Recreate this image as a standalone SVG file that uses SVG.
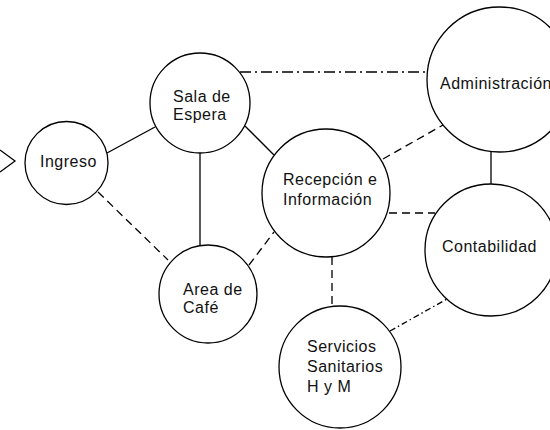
<svg xmlns="http://www.w3.org/2000/svg" width="550" height="430" viewBox="0 0 550 430">
<style>
.n{fill:#fff;stroke:#000;stroke-width:1.3}
.t{font-family:"Liberation Sans",Arial,sans-serif;font-size:16px;letter-spacing:0.5px;fill:#111}
.c{stroke:#000;stroke-width:1.3;fill:none}
.d{stroke-dasharray:8,5}
.dd{stroke-dasharray:11,4,2,4}
.ds{stroke-dasharray:6,3,1.5,3}
</style>
<rect width="550" height="430" fill="#fff"/>
<g id="connectors">
<polyline class="c" points="0,150 15,161 0,172"/>
<line class="c" x1="107" y1="153" x2="155" y2="127"/>
<line class="c d" x1="98" y1="192" x2="168" y2="260"/>
<line class="c" x1="245" y1="126" x2="274" y2="155"/>
<line class="c" x1="200" y1="153" x2="200" y2="245"/>
<line class="c dd" x1="240" y1="72" x2="427" y2="72"/>
<line class="c d" x1="249" y1="265" x2="274" y2="232"/>
<line class="c d" x1="383" y1="159" x2="443" y2="125"/>
<line class="c d" x1="389" y1="213" x2="435" y2="213"/>
<line class="c d" x1="332" y1="257" x2="332" y2="306"/>
<line class="c" x1="491" y1="152" x2="491" y2="184"/>
<line class="c ds" x1="390" y1="331" x2="447" y2="299"/>
</g>
<g id="ingreso"><circle class="n" cx="66.5" cy="163" r="41.5"/><text class="t" x="40" y="167">Ingreso</text></g>
<g id="sala"><circle class="n" cx="200" cy="103" r="50"/><text class="t" x="173" y="102">Sala de</text><text class="t" x="173" y="120">Espera</text></g>
<g id="cafe"><circle class="n" cx="208" cy="294" r="49"/><text class="t" x="183" y="295">Area de</text><text class="t" x="183" y="313">Café</text></g>
<g id="recepcion"><circle class="n" cx="326" cy="193" r="64"/><text class="t" x="283" y="185">Recepción e</text><text class="t" x="283" y="205">Información</text></g>
<g id="administracion"><circle class="n" cx="499.5" cy="79.5" r="72.5"/><text class="t" x="440" y="89">Administración</text></g>
<g id="contabilidad"><circle class="n" cx="491" cy="250" r="66"/><text class="t" x="442" y="252">Contabilidad</text></g>
<g id="servicios"><circle class="n" cx="340" cy="367" r="61"/><text class="t" x="307" y="352">Servicios</text><text class="t" x="307" y="372">Sanitarios</text><text class="t" x="307" y="392">H y M</text></g>
</svg>
